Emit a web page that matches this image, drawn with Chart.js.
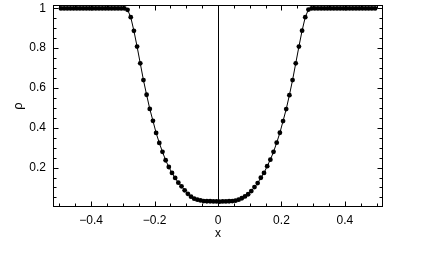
<!DOCTYPE html>
<html>
<head>
<meta charset="utf-8">
<script src="https://cdn.jsdelivr.net/npm/chart.js@4"></script>
<style>
  html, body { margin: 0; padding: 0; background: #fff; }
  #wrap { width: 422px; height: 261px; }
</style>
</head>
<body>
<div id="wrap"><canvas id="rhoChart" width="422" height="261"></canvas></div>
<script>
// sample positions (cell centres)
const xs = [
  -0.495, -0.485, -0.475, -0.465, -0.455, -0.445, -0.435, -0.425, -0.415, -0.405,
  -0.395, -0.385, -0.375, -0.365, -0.355, -0.345, -0.335, -0.325, -0.315, -0.305,
  -0.295, -0.285, -0.275, -0.265, -0.255, -0.245, -0.235, -0.225, -0.215, -0.205,
  -0.195, -0.185, -0.175, -0.165, -0.155, -0.145, -0.135, -0.125, -0.115, -0.105,
  -0.095, -0.085, -0.075, -0.065, -0.055, -0.045, -0.035, -0.025, -0.015, -0.005,
  0.005, 0.015, 0.025, 0.035, 0.045, 0.055, 0.065, 0.075, 0.085, 0.095,
  0.105, 0.115, 0.125, 0.135, 0.145, 0.155, 0.165, 0.175, 0.185, 0.195,
  0.205, 0.215, 0.225, 0.235, 0.245, 0.255, 0.265, 0.275, 0.285, 0.295,
  0.305, 0.315, 0.325, 0.335, 0.345, 0.355, 0.365, 0.375, 0.385, 0.395,
  0.405, 0.415, 0.425, 0.435, 0.445, 0.455, 0.465, 0.475, 0.485, 0.495
];

// density values
const rho = [
  1, 1, 1, 1, 1, 1, 1, 1, 1, 1,
  1, 1, 1, 1, 1, 1, 1, 1, 1, 1,
  1, 0.993, 0.956, 0.887, 0.808, 0.724, 0.640, 0.566, 0.495, 0.435,
  0.374, 0.324, 0.279, 0.237, 0.203, 0.173, 0.148, 0.124, 0.106, 0.086,
  0.068, 0.054, 0.044, 0.039, 0.035, 0.032, 0.031, 0.031, 0.030, 0.030,
  0.029, 0.030, 0.030, 0.031, 0.032, 0.034, 0.039, 0.046, 0.055, 0.066,
  0.082, 0.102, 0.122, 0.149, 0.173, 0.207, 0.240, 0.279, 0.325, 0.375,
  0.434, 0.494, 0.564, 0.640, 0.724, 0.808, 0.888, 0.956, 0.994, 1,
  1, 1, 1, 1, 1, 1, 1, 1, 1, 1,
  1, 1, 1, 1, 1, 1, 1, 1, 1, 1
];

const xLabelTicks = [-0.4, -0.2, 0, 0.2, 0.4];
const yLabelTicks = [0.2, 0.4, 0.6, 0.8, 1];

const isMajor = (v, list) => list.some((t) => Math.abs(t - v) < 1e-6);
const fmt = (v) => {
  const s = String(Math.round(v * 10) / 10);
  return s.replace("-", "\u2212");
};

// frame, zero line and inward ticks on all four sides
const framePlugin = {
  id: "frame",
  beforeDatasetsDraw(chart) {
    const { ctx, chartArea: a, scales } = chart;
    const x0 = Math.round(scales.x.getPixelForValue(0)) + 0.5;
    ctx.save();
    ctx.strokeStyle = "#000";
    ctx.lineWidth = 1;
    ctx.beginPath();
    ctx.moveTo(x0, a.top);
    ctx.lineTo(x0, a.bottom);
    ctx.stroke();
    ctx.restore();
  },
  afterDatasetsDraw(chart) {
    const { ctx, chartArea: a, scales } = chart;
    const L = Math.round(a.left) + 0.5, R = Math.round(a.right) - 0.5;
    const T = Math.round(a.top) + 0.5, B = Math.round(a.bottom) - 0.5;
    ctx.save();
    ctx.strokeStyle = "#000";
    ctx.lineWidth = 1;
    ctx.strokeRect(L, T, R - L, B - T);
    ctx.beginPath();
    scales.x.ticks.forEach((t) => {
      const px = Math.round(scales.x.getPixelForValue(t.value)) + 0.5;
      const len = isMajor(t.value, xLabelTicks) ? 5 : 3;
      ctx.moveTo(px, B); ctx.lineTo(px, B - len);
      ctx.moveTo(px, T); ctx.lineTo(px, T + len);
    });
    scales.y.ticks.forEach((t) => {
      const py = Math.round(scales.y.getPixelForValue(t.value)) + 0.5;
      const len = isMajor(t.value, yLabelTicks) ? 5 : 3;
      ctx.moveTo(L, py); ctx.lineTo(L + len, py);
      ctx.moveTo(R, py); ctx.lineTo(R - len, py);
    });
    ctx.stroke();
    ctx.restore();
  },
};

Chart.defaults.font.family = "'Liberation Sans', Arial, sans-serif";
Chart.defaults.font.size = 12;
Chart.defaults.color = "#000";

const zeroPad = (scale) => {
  scale.paddingTop = 0; scale.paddingBottom = 0;
  scale.paddingLeft = 0; scale.paddingRight = 0;
};

new Chart(document.getElementById("rhoChart"), {
  type: "scatter",
  data: {
    datasets: [
      {
        label: "rho",
        data: xs.map((x, i) => ({ x, y: rho[i] })),
        showLine: true,
        borderColor: "#000",
        borderWidth: 1,
        backgroundColor: "#000",
        pointRadius: 2.4,
        pointBorderWidth: 0,
        tension: 0,
      },
    ],
  },
  options: {
    responsive: false,
    animation: false,
    events: [],
    layout: { padding: { top: 5, right: 39, bottom: 20, left: 0 } },
    plugins: { legend: { display: false }, tooltip: { enabled: false } },
    scales: {
      x: {
        type: "linear",
        min: -0.52,
        max: 0.52,
        afterFit: (s) => { s.height = 34; zeroPad(s); },
        border: { display: false },
        grid: { display: false, drawTicks: false },
        ticks: {
          stepSize: 0.05,
          autoSkip: false,
          maxRotation: 0,
          includeBounds: false,
          padding: 6,
          callback: (v) => (isMajor(v, xLabelTicks) ? fmt(v) : ""),
        },
        title: { display: true, text: "x", font: { size: 12 }, padding: { top: 0, bottom: 0 } },
      },
      y: {
        type: "linear",
        min: 0.002,
        max: 1.017,
        afterFit: (s) => { s.width = 53; zeroPad(s); },
        border: { display: false },
        grid: { display: false, drawTicks: false },
        ticks: {
          stepSize: 0.05,
          autoSkip: false,
          includeBounds: false,
          padding: 7,
          callback: (v) => (isMajor(v, yLabelTicks) ? fmt(v) : ""),
        },
        title: { display: true, text: "\u03C1", font: { size: 13 }, padding: { top: 11, bottom: 0 } },
      },
    },
  },
  plugins: [framePlugin],
});
</script>
</body>
</html>
